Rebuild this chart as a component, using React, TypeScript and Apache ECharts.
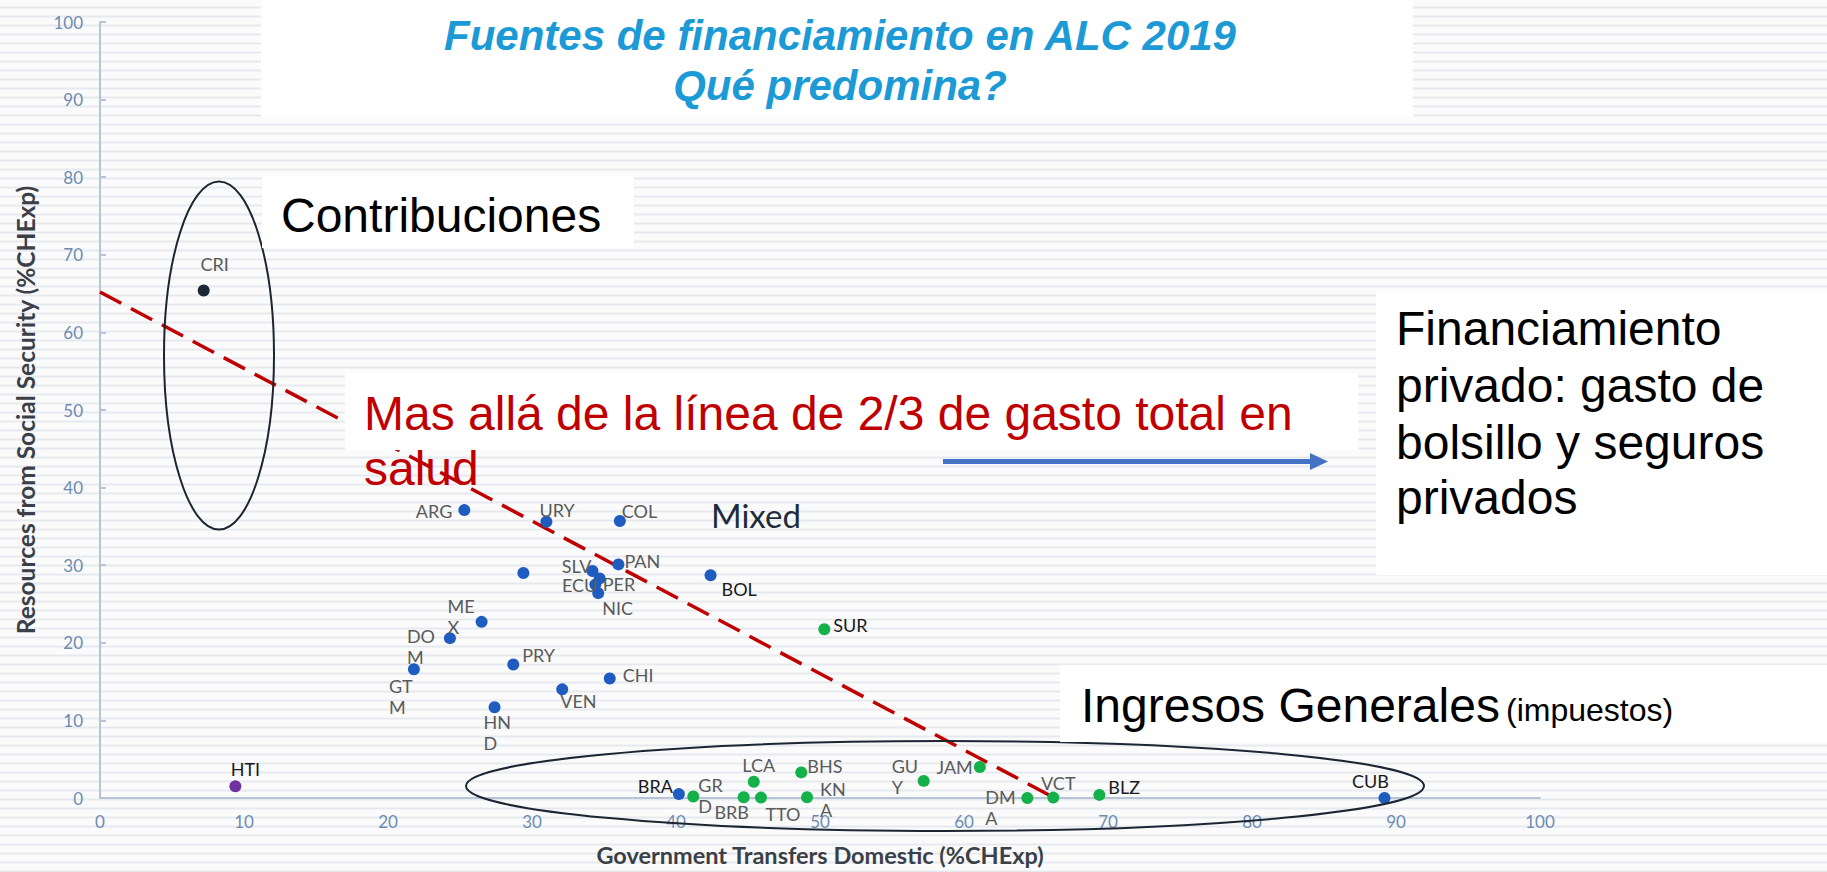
import React, { useEffect, useRef } from "react";
import * as echarts from "echarts";

// ---- Data ----
const countries = ["CRI", "HTI", "ARG", "URY", "COL", "", "SLV", "ECU", "PER", "NIC", "PAN", "BOL", "MEX", "DOM", "GTM", "PRY", "CHI", "VEN", "HND", "BRA", "CUB", "SUR", "GRD", "LCA", "BRB", "TTO", "BHS", "KNA", "GUY", "JAM", "DMA", "VCT", "BLZ"];
const labelTexts = ["CRI", "HTI", "ARG", "URY", "COL", "", "SLV", "ECU", "PER", "NIC", "PAN", "BOL", "ME\nX", "DO\nM", "GT\nM", "PRY", "CHI", "VEN", "HN\nD", "BRA", "CUB", "SUR", "GR\nD", "LCA", "BRB", "TTO", "BHS", "KN\nA", "GU\nY", "JAM", "DM\nA", "VCT", "BLZ"];
const govTransfers = [7.2, 9.4, 25.3, 31.0, 36.1, 29.4, 34.2, 34.4, 34.7, 34.6, 36.0, 42.4, 26.5, 24.3, 21.8, 28.7, 35.4, 32.1, 27.4, 40.2, 89.2, 50.3, 41.2, 45.4, 44.7, 45.9, 48.7, 49.1, 57.2, 61.1, 64.4, 66.2, 69.4];
const socialSecurity = [65.4, 1.5, 37.1, 35.6, 35.7, 29.0, 29.25, 27.5, 28.3, 26.4, 30.1, 28.7, 22.7, 20.6, 16.6, 17.2, 15.4, 14.0, 11.7, 0.5, 0.0, 21.75, 0.2, 2.1, 0.1, 0.05, 3.3, 0.1, 2.2, 4.0, 0.0, 0.05, 0.4];
const groups = ["ss", "other", "lac", "lac", "lac", "lac", "lac", "lac", "lac", "lac", "lac", "lac", "lac", "lac", "lac", "lac", "lac", "lac", "lac", "lac", "lac", "car", "car", "car", "car", "car", "car", "car", "car", "car", "car", "car", "car"];
const axisTicks = [0, 10, 20, 30, 40, 50, 60, 70, 80, 90, 100];
const twoThirdsLine = [[0, 65.2], [66.3, 0]];

// ---- Label layout (styling only) ----
const labelLayout: Record<string, [string, number, number]> = {
  CRI: ["center", 11, -26], HTI: ["center", 10, -17], ARG: ["right", -12, 1], URY: ["left", -7, -12],
  COL: ["left", 2, -10], PAN: ["left", 6, -3], SLV: ["right", -1, -5], ECU: ["right", 2, 0],
  PER: ["left", 3, 6], NIC: ["left", 4, 15], BOL: ["left", 11, 14], SUR: ["left", 9, -4],
  MEX: ["left", -34, -5], DOM: ["left", -43, 8], GTM: ["left", -25, 27], PRY: ["left", 9, -10],
  CHI: ["left", 13, -3], VEN: ["left", -2, 12], HND: ["left", -11, 25], BRA: ["right", -6, -8],
  GRD: ["left", 5, -1], LCA: ["center", 5, -17], BRB: ["center", -12, 15], TTO: ["center", 22, 16],
  BHS: ["left", 6, -6], KNA: ["left", 13, 2], GUY: ["left", -32, -4], JAM: ["right", -7, 0],
  DMA: ["left", -42, 9], VCT: ["center", 5, -15], BLZ: ["left", 9, -8], CUB: ["center", -14, -17],
};
const darkLabels = ["BOL", "BRA", "BLZ", "HTI", "CUB", "SUR"];
const groupColors: Record<string, string> = { ss: "#1c2838", other: "#7030a0", lac: "#1f5cbf", car: "#14b04a" };

function buildData(group: string) {
  const out: any[] = [];
  countries.forEach((c, i) => {
    if (groups[i] !== group) return;
    const lay = labelLayout[c];
    out.push({
      name: c,
      value: [govTransfers[i], socialSecurity[i]],
      label: lay
        ? {
            show: true,
            position: "inside",
            formatter: labelTexts[i],
            align: lay[0],
            verticalAlign: "middle",
            offset: [lay[1], lay[2]],
            color: darkLabels.includes(c) ? "#1a1a1a" : "#5a5a5a",
            fontFamily: "Lato",
            fontSize: 18,
            lineHeight: 21,
          }
        : { show: false },
    });
  });
  return out;
}

const TXT = '"Liberation Sans", Arial, sans-serif';

export default function App() {
  const ref = useRef<HTMLDivElement>(null);
  useEffect(() => {
    if (!ref.current) return;
    const chart = echarts.init(ref.current, null, { renderer: "svg" });
    const scatterSeries = ["ss", "other", "lac", "car"].map((g) => ({
      type: "scatter",
      name: g,
      symbolSize: 12,
      itemStyle: { color: groupColors[g], opacity: 1 },
      data: buildData(g),
      z: 5,
    }));
    const boxes = [
      [261, 0, 1152, 117],
      [262, 176, 372, 72],
      [345, 373, 1013, 77],
      [1376, 291, 451, 284],
      [1060, 665, 767, 77],
    ].map((b) => ({
      type: "rect",
      z: 100,
      silent: true,
      shape: { x: b[0], y: b[1], width: b[2], height: b[3] },
      style: { fill: "#ffffff" },
    }));
    const text = (t: string, x: number, y: number, size: number, fill: string, extra: any = {}) => ({
      type: "text",
      z: 110,
      silent: true,
      style: {
        text: t, x, y, fill,
        fontFamily: TXT, fontSize: size,
        align: "left", verticalAlign: "middle",
        ...extra,
      },
    });
    const option: any = {
      animation: false,
      backgroundColor: "transparent",
      grid: { left: 100, right: 287, top: 22, bottom: 73, containLabel: false },
      xAxis: {
        type: "value",
        min: axisTicks[0],
        max: axisTicks[axisTicks.length - 1],
        interval: 10,
        name: "Government Transfers Domestic (%CHExp)",
        nameLocation: "middle",
        nameGap: 45,
        nameTextStyle: { fontFamily: "Lato", fontWeight: "bold", fontSize: 23.5, color: "#3a3f48" },
        axisLine: { show: true, lineStyle: { color: "#b6c4d7", width: 2 } },
        axisTick: { show: false },
        axisLabel: { color: "#6c8bb3", fontFamily: "Lato", fontSize: 17, margin: 15 },
        splitLine: { show: false },
      },
      yAxis: {
        type: "value",
        min: axisTicks[0],
        max: axisTicks[axisTicks.length - 1],
        interval: 10,
        name: "Resources from Social Security (%CHExp)",
        nameLocation: "middle",
        nameGap: 62,
        nameTextStyle: { fontFamily: "Lato", fontWeight: "bold", fontSize: 24.5, color: "#3a3f48" },
        axisLine: { show: true, lineStyle: { color: "#b6c4d7", width: 2 } },
        axisTick: { show: true, inside: true, length: 6, lineStyle: { color: "#b6c4d7", width: 2 } },
        axisLabel: { color: "#6c8bb3", fontFamily: "Lato", fontSize: 17, margin: 17 },
        splitLine: { show: false },
      },
      series: [
        {
          type: "line",
          data: twoThirdsLine,
          symbol: "none",
          silent: true,
          z: 3,
          lineStyle: { color: "#c00000", width: 3.5, type: [24, 11] },
        },
        ...scatterSeries,
      ],
      graphic: [
        {
          type: "ellipse", z: 50, silent: true,
          shape: { cx: 219, cy: 355.5, rx: 55, ry: 174 },
          style: { fill: "none", stroke: "#1c2633", lineWidth: 2 },
        },
        {
          type: "ellipse", z: 50, silent: true,
          shape: { cx: 945, cy: 786, rx: 479, ry: 45 },
          style: { fill: "none", stroke: "#1c2633", lineWidth: 2 },
        },
        ...boxes,
        text("Fuentes de financiamiento en ALC 2019", 840, 35, 42, "#1b9ad6", { align: "center", fontStyle: "italic", fontWeight: "bold" }),
        text("Qué predomina?", 840, 85, 42, "#1b9ad6", { align: "center", fontStyle: "italic", fontWeight: "bold" }),
        text("Contribuciones", 281, 215, 48, "#000000"),
        text("Mas allá de la línea de 2/3 de gasto total en", 364, 413, 48, "#c00000"),
        text("salud", 364, 468, 48, "#c00000"),
        text("Financiamiento", 1396, 328, 48, "#000000"),
        text("privado: gasto de", 1396, 385, 48, "#000000"),
        text("bolsillo y seguros", 1396, 442, 48, "#000000"),
        text("privados", 1396, 497, 48, "#000000"),
        text("Ingresos Generales", 1081, 705, 48, "#000000"),
        text("(impuestos)", 1506, 710, 32, "#000000"),
        text("Mixed", 711, 515, 33, "#1e2b3b", { fontFamily: "Lato" }),
        {
          type: "line", z: 110, silent: true,
          shape: { x1: 943, y1: 461.5, x2: 1313, y2: 461.5 },
          style: { stroke: "#4472c4", lineWidth: 5 },
        },
        {
          type: "polygon", z: 110, silent: true,
          shape: { points: [[1310, 453], [1328, 461.5], [1310, 470]] },
          style: { fill: "#4472c4" },
        },
      ],
    };
    chart.setOption(option);
    return () => chart.dispose();
  }, []);
  return (
    <div
      ref={ref}
      style={{
        position: "absolute",
        left: 0,
        top: 0,
        width: 1827,
        height: 872,
        background:
          "repeating-linear-gradient(180deg, #fbfbfc 0px, #fbfbfc 6px, #e6e9ed 7px, #e6e9ed 8px, #fbfbfc 9px)",
      }}
    />
  );
}
